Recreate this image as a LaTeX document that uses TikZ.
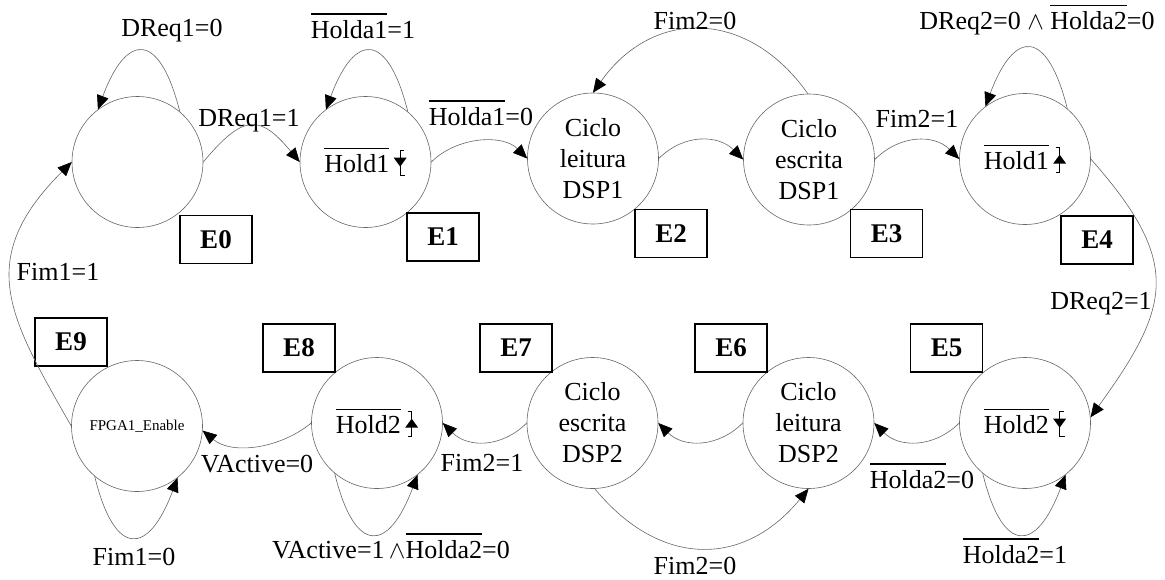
\documentclass[tikz,border=0pt]{standalone}
\usepackage{fontspec}
\setmainfont{Liberation Serif}
\usetikzlibrary{arrows.meta}
\newcommand{\ovl}[1]{\leavevmode\vbox{\hrule height 1.4pt\kern 5.5pt\hbox{#1}}}
\newcommand{\fallsym}{\tikz[baseline=0pt,x=1pt,y=1pt,line width=1.3pt]{\draw (4,22)--(0,22)--(0,-3)--(5,-3); \fill (-6.5,15)--(6.5,15)--(0,6)--cycle;}}
\newcommand{\risesym}{\tikz[baseline=0pt,x=1pt,y=1pt,line width=1.3pt]{\draw (-4,22)--(0,22)--(0,-3)--(-4,-3); \fill (-6.5,6)--(6.5,6)--(0,15)--cycle;}}
\tikzset{
  state/.style={circle, draw=black!60, line width=0.6pt, minimum size=131pt, inner sep=0pt, align=center},
  tag/.style={draw=black, line width=1.5pt, minimum width=72pt, minimum height=48pt, inner sep=0pt, font=\fontsize{27}{31}\selectfont\bfseries},
  edge/.style={draw=black!60, line width=0.6pt, -{Triangle[length=14pt,width=12pt,color=black]}},
  lbl/.style={inner sep=0pt}
}
\begin{document}
\begin{tikzpicture}[x=1pt,y=-1pt,font=\fontsize{26}{31}\selectfont]
\useasboundingbox (0,0) rectangle (1165,579);
% states
\node[state] (E0) at (137.5,162) {};
\node[state] (E1) at (365.5,162) {\ovl{Hold1}\,\fallsym};
\node[state] (E2) at (593,158.5) {Ciclo\\leitura\\DSP1};
\node[state] (E3) at (809,159.5) {Ciclo\\escrita\\DSP1};
\node[state] (E4) at (1025,159) {\ovl{Hold1}\,\risesym};
\node[state] (E5) at (1025,423) {\ovl{Hold2}\,\fallsym};
\node[state] (E6) at (808.5,423) {Ciclo\\leitura\\DSP2};
\node[state] (E7) at (592.5,423) {Ciclo\\escrita\\DSP2};
\node[state] (E8) at (377,423) {\ovl{Hold2}\,\risesym};
\node[state] (E9) at (137,426) {\fontsize{15}{18}\selectfont FPGA1\_Enable};
% tags
\node[tag] (T0) at (216,239.5) {E0};
\node[tag] (T1) at (443,237) {E1};
\node[tag] (T2) at (671,233.5) {E2};
\node[tag] (T3) at (886.5,233.5) {E3};
\node[tag] (T4) at (1097,240) {E4};
\node[tag] (T5) at (946.5,348) {E5};
\node[tag] (T6) at (731,348) {E6};
\node[tag] (T7) at (516,348) {E7};
\node[tag] (T8) at (299,348) {E8};
\node[tag] (T9) at (71,342) {E9};
% edges
\draw[edge] (E0.50) .. controls +(-20,-80) and +(29,-78) .. (E0.127);
\draw[edge] (E0.east) .. controls +(40,-48) and +(-40,-48) .. (E1.west);
\draw[edge] (E1.50) .. controls +(-20,-80) and +(29,-78) .. (E1.127);
\draw[edge] (E1.east) .. controls +(25,-25) and +(-25,-25) .. (E2.west);
\draw[edge] (E2.east) .. controls +(25,-25) and +(-25,-25) .. (E3.west);
\draw[edge] (E3.91) .. controls +(-60,-85) and +(60,-85) .. (E2.90);
\draw[edge] (E3.east) .. controls +(25,-25) and +(-25,-25) .. (E4.west);
\draw[edge] (E4.50) .. controls +(-20,-80) and +(29,-78) .. (E4.127);
\draw[edge] (E4.east) .. controls +(91,103) and +(81,-112) .. (E5.5);
\draw[edge] (E5.230) .. controls +(20,82) and +(-29,78) .. (E5.308);
\draw[edge] (E5.west) .. controls +(-25,25) and +(25,25) .. (E6.east);
\draw[edge] (E6.west) .. controls +(-25,25) and +(25,25) .. (E7.east);
\draw[edge] (E7.-88) .. controls +(65,79) and +(-65,79) .. (E6.-90);
\draw[edge] (E7.west) .. controls +(-25,25) and +(25,25) .. (E8.east);
\draw[edge] (E8.230) .. controls +(20,82) and +(-29,78) .. (E8.308);
\draw[edge] (E8.west) .. controls +(-30,25) and +(30,25) .. (E9.-4);
\draw[edge] (E9.230) .. controls +(20,82) and +(-29,78) .. (E9.308);
\draw[edge] (E9.west) .. controls +(-62,-109) and +(-98,98) .. (E0.west);
% labels
\node[lbl] (L1) at (172,31) {DReq1=0};
\node[lbl] (L2) at (249,121) {DReq1=1};
\node[lbl] (L3) at (363,26) {\ovl{Holda1}=1};
\node[lbl] (L4) at (481,113) {\ovl{Holda1}=0};
\node[lbl] (L5) at (695,21) {Fim2=0};
\node[lbl] (L6) at (917,119) {Fim2=1};
\node[lbl] (L7) at (1037,20) {DReq2=0 $\wedge$ \ovl{Holda2}=0};
\node[lbl] (L8) at (1101,304) {DReq2=1};
\node[lbl] (L9) at (1015,551) {\ovl{Holda2}=1};
\node[lbl] (L10) at (922,476) {\ovl{Holda2}=0};
\node[lbl] (L11) at (695,566) {Fim2=0};
\node[lbl] (L12) at (482,463) {Fim2=1};
\node[lbl] (L13) at (257,464) {VActive=0};
\node[lbl] (L14) at (391,546) {VActive=1\,$\wedge$\ovl{Holda2}=0};
\node[lbl] (L15) at (134,557) {Fim1=0};
\node[lbl] (L16) at (58,272) {Fim1=1};
\end{tikzpicture}
\end{document}
